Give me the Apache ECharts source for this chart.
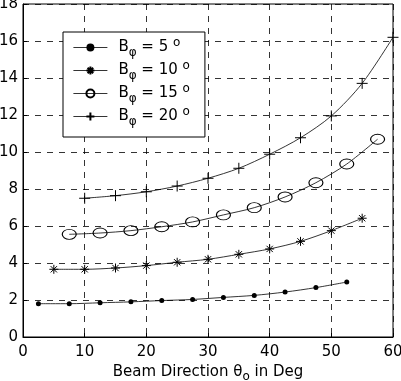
<!DOCTYPE html>
<html><head><meta charset="utf-8">
<script src="https://cdn.jsdelivr.net/npm/echarts@6/dist/echarts.min.js"></script>
<style>html,body{margin:0;padding:0;background:#fff}#c{width:401px;height:381px}</style>
</head><body><div id="c"></div>
<script>
const x5 = [2.5,7.5,12.5,17.5,22.5,27.5,32.5,37.5,42.5,47.5,52.5];
const y5 = [1.8,1.8,1.85,1.9,1.97,2.03,2.14,2.25,2.43,2.67,2.97];
const x10 = [5,10,15,20,25,30,35,40,45,50,55];
const y10 = [3.66,3.66,3.73,3.86,4.04,4.2,4.47,4.76,5.17,5.75,6.42];
const x15 = [7.5,12.5,17.5,22.5,27.5,32.5,37.5,42.5,47.5,52.5,57.5];
const y15 = [5.55,5.62,5.75,5.96,6.22,6.6,6.99,7.57,8.34,9.35,10.69];
const x20 = [10,15,20,25,30,35,40,45,50,55,60];
const y20 = [7.5,7.64,7.85,8.16,8.58,9.12,9.88,10.77,11.95,13.71,16.2];
const names = ['5','10','15','20'];
const font = 'DejaVu Sans, sans-serif';
const zip = (a,b)=>a.map((v,i)=>[v,b[i]]);
const star = 'path://M5,0L5,10M0,5L10,5M1.5,1.5L8.5,8.5M1.5,8.5L8.5,1.5';
const plus = 'path://M5,0L5,10M0,5L10,5';
function ser(name, data, symbol, size, itemStyle){
  return {name, type:'line', data, smooth:0.3, symbol, symbolSize:size, showSymbol:true,
    lineStyle:{color:'#000', width:0.8}, itemStyle, emphasis:{disabled:true}, animation:false, z:3};
}
const chart = echarts.init(document.getElementById('c'));
chart.setOption({
  animation:false,
  grid:{left:23,right:8,top:4,bottom:44,show:true,borderColor:'#000',borderWidth:1,backgroundColor:'transparent',outerBoundsMode:'none',containLabel:false},
  xAxis:{type:'value',min:0,max:60,interval:10,
    axisLine:{show:true,lineStyle:{color:'#000'}},
    axisTick:{show:true,inside:true,length:4,lineStyle:{color:'#000'}},
    axisLabel:{color:'#000',fontFamily:font,fontSize:15,margin:8},
    splitLine:{show:true,lineStyle:{color:'#000',type:[6,6],width:0.8}},
    name:'Beam Direction θ{sub|o} in Deg',nameLocation:'middle',nameGap:22,
    nameTextStyle:{color:'#000',fontFamily:font,fontSize:15,rich:{sub:{fontFamily:font,fontSize:12,padding:[9,0,0,0],color:'#000'}}}},
  yAxis:{type:'value',min:0,max:18,interval:2,
    axisLine:{show:true,lineStyle:{color:'#000'}},
    axisTick:{show:true,inside:true,length:4,lineStyle:{color:'#000'}},
    axisLabel:{color:'#000',fontFamily:font,fontSize:15,margin:5},
    splitLine:{show:true,lineStyle:{color:'#000',type:[6,6],width:0.8}}},
  legend:{left:63,top:32,orient:'vertical',padding:[4,15,9,10],itemGap:0,
    backgroundColor:'#fff',borderColor:'#000',borderWidth:1,
    itemWidth:34,itemHeight:10,
    lineStyle:{width:0.8},
    data:names.map(n=>'B'+n),
    formatter:(n)=>'B{sub|φ} = '+n.slice(1)+' {sup|o}',
    textStyle:{color:'#000',fontFamily:font,fontSize:15,padding:[0,0,0,6],
      rich:{sub:{fontFamily:font,fontSize:12,padding:[11,0,0,0],lineHeight:11,color:'#000'},
            sup:{fontFamily:font,fontSize:12,padding:[0,0,10,0],color:'#000'}}}},
  series:[
    ser('B5', zip(x5,y5), 'circle', 5, {color:'#000'}),
    ser('B10', zip(x10,y10), star, 9, {color:'none',borderColor:'#000',borderWidth:1}),
    ser('B15', zip(x15,y15), 'circle', [14,10], {color:'none',borderColor:'#000',borderWidth:1}),
    ser('B20', zip(x20,y20), plus, 11, {color:'none',borderColor:'#000',borderWidth:1})
  ]
});
</script></body></html>
